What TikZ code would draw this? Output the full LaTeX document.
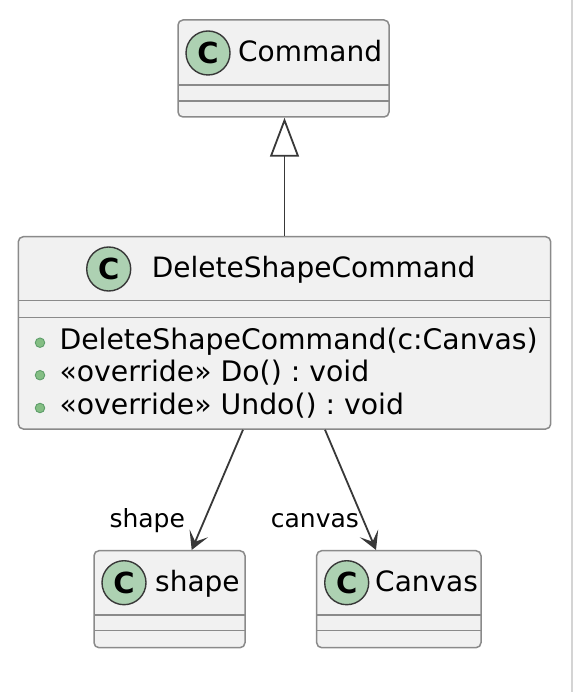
\documentclass[tikz,border=0pt]{standalone}
\usepackage{fontspec}
\setmainfont{DejaVu Sans}
\usetikzlibrary{arrows.meta,calc}
\definecolor{boxfill}{HTML}{F1F1F1}
\definecolor{boxline}{HTML}{8A8A8A}
\definecolor{circfill}{HTML}{ADD1B2}
\definecolor{linecol}{HTML}{383838}
\definecolor{dotfill}{HTML}{84BE84}
\definecolor{dotline}{HTML}{5E9E6A}
\definecolor{edgecol}{HTML}{D4D4D4}
\frenchspacing
\begin{document}
\begin{tikzpicture}[x=1pt,y=-1pt,
 classbox/.style={draw=boxline, fill=boxfill, line width=1.5pt, rounded corners=5pt, inner sep=0pt},
 sepline/.style={draw=boxline, line width=1.5pt},
 cbadge/.style={circle, draw=linecol, fill=circfill, line width=1.4pt, minimum size=44pt, inner sep=0pt, font=\fontsize{29}{30}\selectfont\bfseries},
 cname/.style={anchor=base west, inner sep=0pt, font=\fontsize{28}{30}\selectfont},
 meth/.style={anchor=base west, inner sep=0pt, font=\fontsize{28.3}{30}\selectfont},
 mdot/.style={circle, draw=dotline, fill=dotfill, line width=0.9pt, minimum size=9.5pt, inner sep=0pt},
 lbl/.style={anchor=base west, inner sep=0pt, font=\fontsize{25}{28}\selectfont},
 assoc/.style={draw=linecol, line width=1.8pt, -{Stealth[length=18pt,width=20pt,inset=9pt]}},
 inherit/.style={draw=linecol, line width=1.8pt, -{Triangle[open, length=39pt, width=29pt, fill=white]}}
]
\useasboundingbox (0,0) rectangle (574,692);
\draw[edgecol, line width=2pt] (572,0) -- (572,692);

% Command
\node[classbox, minimum width=211pt, minimum height=97pt] (cmd) at (283.5,68.5) {};
\draw[sepline] (178,85) -- (389,85);
\draw[sepline] (178,101) -- (389,101);
\node[cbadge] (cmdc) at (208,53) {C};
\node[cname] (cmdt) at (238,61.5) {Command};

% DeleteShapeCommand
\node[classbox, minimum width=532.4pt, minimum height=192.3pt] (dsc) at (284.5,332.85) {};
\draw[sepline] (18.3,300.7) -- (550.7,300.7);
\draw[sepline] (18.3,317.3) -- (550.7,317.3);
\node[cbadge] (dscc) at (108.7,269) {C};
\node[cname] (dsct) at (151.7,277.5) {DeleteShapeCommand};
\node[mdot] (d1) at (40,342.7) {};
\node[mdot] (d2) at (40,375.2) {};
\node[mdot] (d3) at (40,408) {};
\node[meth] (m1) at (59.3,349) {DeleteShapeCommand(c:Canvas)};
\node[meth] (m2) at (59.3,381.2) {«override» Do() : void};
\node[meth] (m3) at (59.3,414) {«override» Undo() : void};

% shape
\node[classbox, minimum width=151pt, minimum height=97pt] (shape) at (169.5,599.2) {};
\draw[sepline] (94,615) -- (245,615);
\draw[sepline] (94,630.7) -- (245,630.7);
\node[cbadge] (shapec) at (124,582.7) {C};
\node[cname] (shapet) at (155,591.7) {shape};

% Canvas
\node[classbox, minimum width=164.3pt, minimum height=97pt] (canvas) at (398.85,599.2) {};
\draw[sepline] (316.7,615) -- (481,615);
\draw[sepline] (316.7,630.7) -- (481,630.7);
\node[cbadge] (canvasc) at (346.7,582.7) {C};
\node[cname] (canvast) at (375,591.7) {Canvas};

% connectors
\draw[inherit] (dsc.north) -- (dsc.north |- cmd.south);
\draw[assoc] ($(dsc.south)+(-41.5,0)$) -- ($(shape.north)+(22.2,0)$);
\draw[assoc] ($(dsc.south)+(40.5,0)$) -- ($(canvas.north)+(-22.85,0)$);
\node[lbl] (lshape) at (109.3,527) {shape};
\node[lbl] (lcanvas) at (270.7,527) {canvas};
\end{tikzpicture}
\end{document}
